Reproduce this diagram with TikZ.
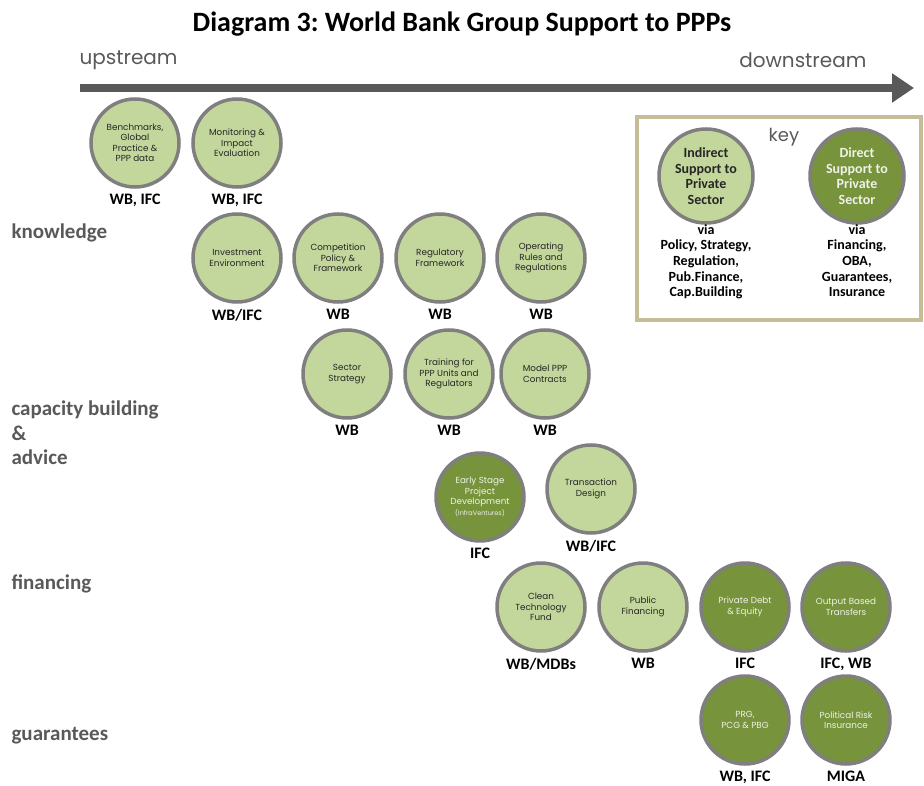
\documentclass[tikz,border=0pt]{standalone}
\usepackage{fontspec}
\setmainfont{Carlito}
\newfontfamily\gothic{Poppins}
\usetikzlibrary{arrows.meta,positioning}
\frenchspacing

\definecolor{lightolive}{HTML}{C3D69B}
\definecolor{darkolive}{HTML}{77933C}
\definecolor{ringgray}{HTML}{7F7F7F}
\definecolor{axisgray}{HTML}{595959}
\definecolor{keytan}{HTML}{C4BD97}

\begin{document}
\begin{tikzpicture}[x=1pt, y=-1pt,
  every node/.style={font=\bfseries},
  support/.style={circle, draw=ringgray, line width=3.5pt, minimum size=88pt, inner sep=0pt,
    align=center, font=\gothic\fontsize{8.8}{10.5}\selectfont},
  indirect/.style={support, fill=lightolive, text=black!85},
  direct/.style={support, fill=darkolive, text=white!88!darkolive},
  agency/.style={below=2pt, font=\bfseries\fontsize{16}{18}\selectfont},
  stage/.style={anchor=west, text=axisgray, align=left, font=\bfseries\fontsize{21}{24.5}\selectfont},
  flow/.style={text=axisgray, font=\gothic\fontsize{20}{22}\selectfont},
  keytext/.style={align=center, font=\bfseries\fontsize{14}{15.7}\selectfont}]
	\useasboundingbox (0,0) rectangle (924,786);
	% title and the upstream/downstream axis
	\node[font=\bfseries\fontsize{28}{32}\selectfont] (title) at (462,24) {Diagram 3: World Bank Group Support to PPPs};
	\node[flow, anchor=west] (up) at (76,60) {upstream};
	\node[flow, anchor=east] (down) at (870,60) {downstream};
	\coordinate (axisL) at (80,88);
	\coordinate (axisR) at (914,88);
	\draw[axisgray, line width=8pt, -{Triangle[length=22pt, width=28pt]}] (axisL) -- (axisR);
	% stages along the left
	\node[stage] (knowledge) at (8,233) {knowledge};
	\node[stage] (capacity) at (8,433) {capacity building\\\&\\advice};
	\node[stage] (financing) at (8,584) {financing};
	\node[stage] (guarantees) at (8,736) {guarantees};
	% knowledge
	\node[indirect] (bench) at (135,143) {Benchmarks,\\Global\\Practice \&\\PPP data};
	\node[indirect] (monitor) at (237,143) {Monitoring \&\\Impact\\Evaluation};
	\node[agency] at (bench.south) {WB, IFC};
	\node[agency] at (monitor.south) {WB, IFC};
	\node[indirect] (invest) at (237,258) {Investment\\Environment};
	\node[indirect] (compet) at (338,258) {Competition\\Policy \&\\Framework};
	\node[indirect] (regul) at (440,258) {Regulatory\\Framework};
	\node[indirect] (operate) at (541,258) {Operating\\Rules and\\Regulations};
	\node[agency] at (invest.south) {WB/IFC};
	\node[agency] at (compet.south) {WB};
	\node[agency] at (regul.south) {WB};
	\node[agency] at (operate.south) {WB};
	% capacity building & advice
	\node[indirect] (sector) at (347,374) {Sector\\Strategy};
	\node[indirect] (training) at (449,374) {Training for\\PPP Units and\\Regulators};
	\node[indirect] (model) at (545,374) {Model PPP\\Contracts};
	\node[agency] at (sector.south) {WB};
	\node[agency] at (training.south) {WB};
	\node[agency] at (model.south) {WB};
	\node[direct] (early) at (480,497) {Early Stage\\Project\\Development\\{\fontsize{6.5}{7.5}\selectfont(InfraVentures)}};
	\node[indirect] (transact) at (591,489) {Transaction\\Design};
	\node[agency] at (early.south) {IFC};
	\node[agency] at (transact.south) {WB/IFC};
	% financing
	\node[indirect] (clean) at (541,607) {Clean\\Technology\\Fund};
	\node[indirect] (public) at (643,607) {Public\\Financing};
	\node[direct] (debt) at (745,607) {Private Debt\\\& Equity};
	\node[direct] (output) at (846,607) {Output Based\\Transfers};
	\node[agency] at (clean.south) {WB/MDBs};
	\node[agency] at (public.south) {WB};
	\node[agency] at (debt.south) {IFC};
	\node[agency] at (output.south) {IFC, WB};
	% guarantees
	\node[direct] (prg) at (745,720) {PRG,\\PCG \& PBG};
	\node[direct] (risk) at (846,720) {Political Risk\\Insurance};
	\node[agency] at (prg.south) {WB, IFC};
	\node[agency] at (risk.south) {MIGA};
	% key
	\draw[keytan, line width=3.5pt] (637,117) rectangle (921,320);
	\node[flow, font=\gothic\fontsize{18}{20}\selectfont] (key) at (784,137) {key};
	\node[indirect, minimum size=94pt, font=\bfseries\fontsize{14}{15.5}\selectfont] (keyI) at (706,176) {Indirect\\Support to\\Private\\Sector};
	\node[direct, minimum size=94pt, font=\bfseries\fontsize{14}{15.5}\selectfont] (keyD) at (857,176) {Direct\\Support to\\Private\\Sector};
	\node[keytext, below=-4pt of keyI] (viaI) {via\\Policy, Strategy,\\Regulation,\\Pub.Finance,\\Cap.Building};
	\node[keytext, below=-4pt of keyD] (viaD) {via\\Financing,\\OBA,\\Guarantees,\\Insurance};
\end{tikzpicture}
\end{document}
